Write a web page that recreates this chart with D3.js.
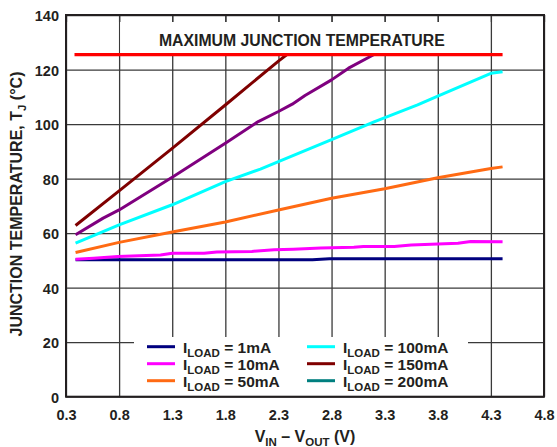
<!DOCTYPE html>
<html>
<head>
<meta charset="utf-8">
<script src="https://cdn.jsdelivr.net/npm/d3@7"></script>
<style>
  html, body { margin: 0; padding: 0; background: #fff; }
  svg { display: block; font-family: "Liberation Sans", Arial, sans-serif; font-weight: bold; }
  text { fill: #231f20; }
</style>
</head>
<body>
<script>
// tick values
const vTicks = [0.3, 0.8, 1.3, 1.8, 2.3, 2.8, 3.3, 3.8, 4.3, 4.8];
const tTicks = [0, 20, 40, 60, 80, 100, 120, 140];

// [V_IN - V_OUT, T_J]
const load1mA = [[0.39, 50.2], [1.5, 50.2], [2.62, 50.2], [2.78, 50.6], [4.41, 50.6]];
const load10mA = [[0.39, 50.4], [0.56, 50.8], [0.79, 51.4], [1.19, 52.0], [1.3, 52.6],
  [1.6, 52.6], [1.72, 53.1], [2.05, 53.3], [2.26, 53.9], [2.44, 54.1], [2.7, 54.5],
  [3.01, 54.8], [3.1, 55.1], [3.39, 55.1], [3.55, 55.6], [3.99, 56.3], [4.11, 56.9], [4.41, 56.8]];
const load50mA = [[0.39, 52.9], [0.8, 56.6], [1.3, 60.4], [1.8, 64.1], [2.3, 68.5],
  [2.8, 72.8], [3.3, 76.3], [3.8, 80.3], [4.3, 83.7], [4.41, 84.3]];
const load100mA = [[0.39, 56.3], [0.8, 63.0], [1.3, 70.4], [1.8, 78.9], [2.13, 83.5],
  [2.3, 86.2], [2.8, 94.3], [3.2, 100.8], [3.61, 107.0], [3.8, 110.2], [4.3, 118.6], [4.41, 119.2]];
const load150mA = [[0.39, 59.4], [0.65, 65.5], [0.8, 68.5], [1.3, 80.5], [1.8, 93.0],
  [2.11, 100.9], [2.3, 104.6], [2.43, 107.3], [2.55, 110.5], [2.8, 116.2], [2.96, 120.5], [3.2, 125.5]];
const load200mA = [[0.39, 62.8], [0.8, 75.5], [1.3, 91.1], [1.8, 107.0], [2.3, 123.1], [2.38, 125.5]];
const maxJunction = [[0.38, 125.5], [4.41, 125.5]];

// drawing order and colours as they appear in the plot
const plotted = [
  { data: load1mA, color: '#00007f' },
  { data: load10mA, color: '#ff00ff' },
  { data: load50mA, color: '#ff6a13' },
  { data: load100mA, color: '#00ffff' },
  { data: load150mA, color: '#7f007f' },
  { data: load200mA, color: '#7f0000' }
];

// legend entries
const legendLabels = ['1mA', '10mA', '50mA', '100mA', '150mA', '200mA'];
const legendColors = ['#00007f', '#ff00ff', '#ff6a13', '#00ffff', '#7f0000', '#007f7f'];

const width = 557;
const height = 447;
const margin = { top: 15, right: 13, bottom: 50.3, left: 66 };
const plotW = width - margin.left - margin.right;
const plotH = height - margin.top - margin.bottom;

const x = d3.scaleLinear().domain([0.3, 4.8]).range([0, plotW]);
const y = d3.scaleLinear().domain([0, 140]).range([plotH, 0]);

const svg = d3.select('body')
  .append('svg')
    .attr('width', width)
    .attr('height', height);

const g = svg.append('g')
    .attr('transform', `translate(${margin.left},${margin.top})`);

// grid lines via axes
const xAxis = d3.axisBottom(x)
    .tickValues(vTicks)
    .tickFormat(d3.format('.1f'))
    .tickSizeInner(-plotH)
    .tickSizeOuter(0)
    .tickPadding(13);

const yAxis = d3.axisLeft(y)
    .tickValues(tTicks)
    .tickSizeInner(-plotW)
    .tickSizeOuter(0)
    .tickPadding(7);

g.append('g')
    .attr('transform', `translate(0,${plotH})`)
    .call(xAxis)
    .call(a => a.select('.domain').remove())
    .call(a => a.selectAll('line').attr('stroke', '#3a3a3a').attr('stroke-width', 1.3))
    .call(a => a.selectAll('text').attr('font-size', 14.5).attr('fill', '#231f20'));

g.append('g')
    .call(yAxis)
    .call(a => a.select('.domain').remove())
    .call(a => a.selectAll('line').attr('stroke', '#3a3a3a').attr('stroke-width', 1.3))
    .call(a => a.selectAll('text').attr('font-size', 14.5).attr('fill', '#231f20').attr('dy', '0.4em'));

// white box behind the title, between the 0.8 and 4.3 grid lines
g.append('rect')
    .attr('x', x(0.8) + 1)
    .attr('y', 7)
    .attr('width', x(4.3) - x(0.8) - 2)
    .attr('height', y(125.5) - 7)
    .attr('fill', '#fff');

// white box behind the legend
const legX = 68, legY = 322;
g.append('rect')
    .attr('x', legX)
    .attr('y', legY)
    .attr('width', 334)
    .attr('height', plotH - legY)
    .attr('fill', '#fff');

// inward ticks along the top
g.append('g')
    .call(d3.axisTop(x).tickValues(vTicks).tickSizeInner(-7).tickSizeOuter(0).tickFormat(''))
    .call(a => a.select('.domain').remove())
    .call(a => a.selectAll('line').attr('stroke', '#3a3a3a').attr('stroke-width', 1.3));

// data lines
const line = d3.line()
    .x(d => x(d[0]))
    .y(d => y(d[1]))
    .curve(d3.curveLinear);

g.selectAll('.series')
  .data(plotted)
  .enter()
  .append('path')
    .attr('class', 'series')
    .attr('d', d => line(d.data))
    .attr('fill', 'none')
    .attr('stroke', d => d.color)
    .attr('stroke-width', 3)
    .attr('stroke-linejoin', 'round');

// maximum junction temperature
g.append('path')
    .attr('d', line(maxJunction))
    .attr('fill', 'none')
    .attr('stroke', '#ff0000')
    .attr('stroke-width', 3.2);

g.append('text')
    .attr('x', x(2.52))
    .attr('y', 31)
    .attr('text-anchor', 'middle')
    .attr('font-size', 15.8)
    .text('MAXIMUM JUNCTION TEMPERATURE');

// frame
g.append('rect')
    .attr('width', plotW)
    .attr('height', plotH)
    .attr('fill', 'none')
    .attr('stroke', '#231f20')
    .attr('stroke-width', 2);

// legend
const legend = g.append('g')
    .attr('transform', `translate(${legX},${legY})`);

legendLabels.forEach((label, i) => {
  const col = Math.floor(i / 3);
  const row = i % 3;
  const lx = 13 + col * 160;
  const ly = 9.7 + row * 17;
  legend.append('line')
      .attr('x1', lx)
      .attr('x2', lx + 28)
      .attr('y1', ly)
      .attr('y2', ly)
      .attr('stroke', legendColors[i])
      .attr('stroke-width', 3);
  const t = legend.append('text')
      .attr('x', lx + 36)
      .attr('y', ly + 6.5)
      .attr('font-size', 15.5);
  t.append('tspan').text('I');
  t.append('tspan').attr('dy', 4).attr('font-size', 11.5).text('LOAD');
  t.append('tspan').attr('dy', -4).text(` = ${label}`);
});

// axis titles
const xt = svg.append('text')
    .attr('x', margin.left + x(2.55))
    .attr('y', 441.5)
    .attr('text-anchor', 'middle')
    .attr('font-size', 16);
xt.append('tspan').text('V');
xt.append('tspan').attr('dy', 4).attr('font-size', 11.5).text('IN');
xt.append('tspan').attr('dy', -4).text(' \u2013 V');
xt.append('tspan').attr('dy', 4).attr('font-size', 11.5).text('OUT');
xt.append('tspan').attr('dy', -4).text(' (V)');

const yt = svg.append('text')
    .attr('transform', 'translate(21.5,204) rotate(-90)')
    .attr('text-anchor', 'middle')
    .attr('font-size', 16);
yt.append('tspan').text('JUNCTION TEMPERATURE, T');
yt.append('tspan').attr('dy', 4).attr('font-size', 11.5).text('J');
yt.append('tspan').attr('dy', -4).text(' (\u00B0C)');
</script>
</body>
</html>
